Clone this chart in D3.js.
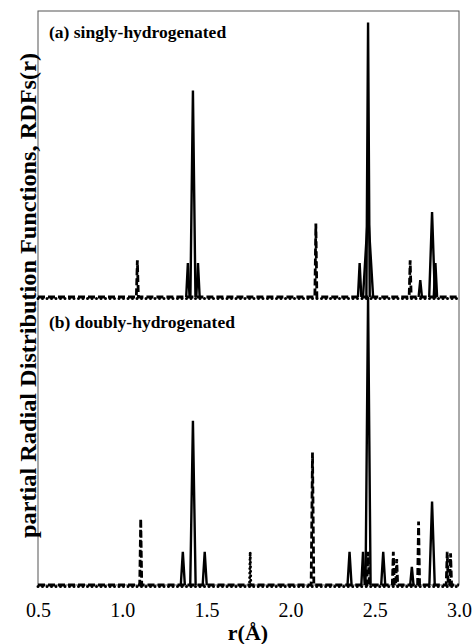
<!DOCTYPE html>
<html>
<head>
<meta charset="utf-8">
<script src="https://cdn.jsdelivr.net/npm/d3@7"></script>
<style>
  body { margin: 0; background: #fff; }
  text { font-family: "Liberation Serif", "Times New Roman", serif; fill: #000; }
</style>
</head>
<body>
<svg width="474" height="644"></svg>
<script>
// peaks: [r, height, half-width]  (height in % of panel)
let solidA = [[1.39, 12, 0.01], [1.42, 73, 0.015], [1.45, 12, 0.01], [2.41, 12, 0.01],
    [2.46, 30, 0.03], [2.46, 97, 0.01], [2.77, 6, 0.01], [2.84, 30, 0.017], [2.86, 12, 0.01]];
let dashA = [[1.09, 13, 0.006], [2.15, 26, 0.006], [2.71, 13, 0.006]];
let dotA = [];

let solidB = [[1.36, 11.5, 0.012], [1.42, 57, 0.016], [1.49, 11.5, 0.012], [2.35, 11.5, 0.012],
    [2.43, 11.5, 0.01], [2.46, 100, 0.015], [2.55, 11.5, 0.012], [2.72, 6.3, 0.01], [2.84, 29, 0.016]];
let dashB = [[1.11, 23, 0.006], [2.13, 46, 0.008], [2.46, 11.5, 0.008], [2.61, 11.5, 0.006],
    [2.63, 9, 0.006], [2.76, 22, 0.006], [2.93, 11.5, 0.006], [2.95, 11, 0.006]];
let dotB = [[1.76, 12, 0.004]];

let xTicks = [0.5, 1.0, 1.5, 2.0, 2.5, 3.0];
let panelLabels = ['(a) singly-hydrogenated', '(b) doubly-hydrogenated'];

let svg = d3.select('svg');
let pLeft = 38, pRight = 459, pTop = 11, pMid = 297, pBottom = 585;

let x = d3.scaleLinear().domain([0.5, 3.0]).range([pLeft, pRight]);
let yA = d3.scaleLinear().domain([0, 100]).range([pMid, pTop + 3]);
let yB = d3.scaleLinear().domain([0, 100]).range([pBottom, pMid]);

// frame
svg.append('rect')
    .attr('x', pLeft).attr('y', pTop)
    .attr('width', pRight - pLeft).attr('height', pBottom - pTop)
    .attr('fill', 'none').attr('stroke', '#555').attr('stroke-width', 1);

function peakPoints(peaks, full) {
    let pts = [];
    if (full) pts.push([0.5, 0]);
    peaks.slice().sort((a, b) => a[0] - b[0]).forEach(p => {
        pts.push([p[0] - p[2], 0], [p[0], p[1]], [p[0] + p[2], 0]);
    });
    if (full) pts.push([3.0, 0]);
    return pts;
}

function drawPanel(y, solid, dash, dot) {
    let line = d3.line().x(d => x(d[0])).y(d => y(d[1]));
    let g = svg.append('g');
    g.append('path').attr('d', line(peakPoints(dot, true)))
        .attr('transform', 'translate(0,1.5)')
        .attr('fill', 'none').attr('stroke', '#000').attr('stroke-width', 3)
        .attr('stroke-linecap', 'round').attr('stroke-dasharray', '0,4.5');
    g.append('path').attr('d', line(peakPoints(dash, true)))
        .attr('fill', 'none').attr('stroke', '#000').attr('stroke-width', 2.8)
        .attr('stroke-dasharray', '7,3');
    solid.forEach(p => {
        g.append('path').attr('d', line(peakPoints([p], false)))
            .attr('fill', 'none').attr('stroke', '#000').attr('stroke-width', 2.4)
            .attr('stroke-linejoin', 'miter');
    });
}

drawPanel(yA, solidA, dashA, dotA);
drawPanel(yB, solidB, dashB, dotB);

// x axis
let xAxis = d3.axisBottom(x).tickValues(xTicks).tickFormat(d3.format('.1f')).tickSize(0).tickPadding(18);
let ax = svg.append('g').attr('transform', `translate(0,${pBottom})`).call(xAxis)
    .attr('font-family', '"Liberation Serif", serif').attr('font-size', 20);
ax.select('.domain').remove();

svg.append('text').attr('x', 248).attr('y', 640)
    .attr('text-anchor', 'middle').style('font-size', '22px').style('font-weight', 'bold')
    .text('r(Å)');

svg.append('text')
    .attr('transform', `translate(36,${(53 + 538) / 2}) rotate(-90)`)
    .attr('text-anchor', 'middle').style('font-size', '24px').style('font-weight', 'bold')
    .attr('textLength', 485).attr('lengthAdjust', 'spacingAndGlyphs')
    .text('partial Radial Distribution Functions, RDFs(r)');

svg.selectAll('.plab').data(panelLabels).enter().append('text')
    .attr('x', 49).attr('y', (d, i) => i === 0 ? 38 : 328)
    .style('font-size', '17.5px').style('font-weight', 'bold')
    .text(d => d);
</script>
</body>
</html>
